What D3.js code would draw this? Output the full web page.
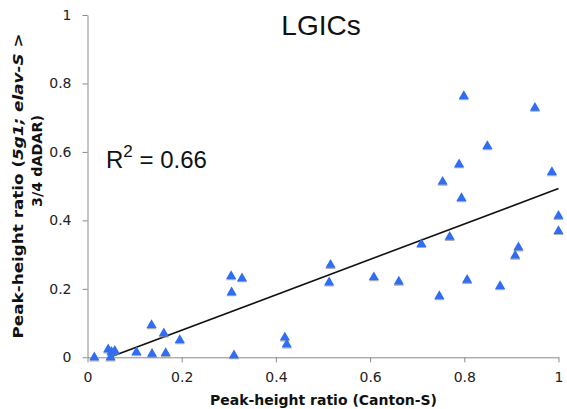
<!DOCTYPE html>
<html><head><meta charset="utf-8">
<script src="https://cdn.jsdelivr.net/npm/d3@7"></script>
<style>body{margin:0;background:#fff;} svg{display:block;}</style>
</head><body><svg id="c" width="567" height="409"></svg>
<script>
const xVals = [0.0145,0.044,0.049,0.051,0.058,0.104,0.136,0.137,0.162,0.166,0.196,0.305,0.306,0.311,0.328,0.419,0.423,0.513,0.516,0.608,0.661,0.709,0.747,0.754,0.769,0.789,0.794,0.799,0.806,0.849,0.876,0.908,0.915,0.950,0.986,1.0,1.0];
const yVals = [0.0,0.023,0.0,0.016,0.019,0.015,0.094,0.01,0.07,0.012,0.05,0.237,0.19,0.006,0.231,0.058,0.038,0.219,0.27,0.234,0.221,0.331,0.179,0.513,0.352,0.564,0.465,0.763,0.226,0.617,0.208,0.297,0.321,0.729,0.541,0.413,0.369];
const trendX = [0.047, 1.0];
const trendY = [0.0, 0.493];
const tickVals = [0,0.2,0.4,0.6,0.8,1];
const tickLabels = ["0","0.2","0.4","0.6","0.8","1"];
const title = "LGICs";
const r2Text = "0.66";

const svg = d3.select("#c");
const x = d3.scaleLinear().domain([0,1]).range([87.5,558.5]);
const y = d3.scaleLinear().domain([0,1]).range([357.3,15]);
const axisColor = "#8a8a8a";
const font = "'DejaVu Sans', Verdana, sans-serif";

const xa = svg.append("g").attr("transform","translate(0,357.3)")
  .call(d3.axisBottom(x).tickValues(tickVals).tickFormat((d,i)=>tickLabels[i]).tickSize(5).tickSizeOuter(0).tickPadding(10));
const ya = svg.append("g").attr("transform","translate(87.5,0)")
  .call(d3.axisLeft(y).tickValues(tickVals).tickFormat((d,i)=>tickLabels[i]).tickSize(5).tickSizeOuter(0).tickPadding(11));
[xa,ya].forEach(a=>{
  a.select(".domain").attr("stroke",axisColor);
  a.selectAll(".tick line").attr("stroke",axisColor);
  a.selectAll("text").attr("fill","#222").style("font-family",font).style("font-size","14px");
});

// trendline
svg.append("line")
  .attr("x1",x(trendX[0])).attr("y1",y(trendY[0]))
  .attr("x2",x(trendX[1])).attr("y2",y(trendY[1]))
  .attr("stroke","#111").attr("stroke-width",1.6);

// markers
const tri = d3.symbol().type(d3.symbolTriangle).size(44);
const pts = xVals.map((v,i)=>({x:v,y:yVals[i]}));
svg.append("g").selectAll("path.sh").data(pts).join("path")
  .attr("d",tri).attr("transform",d=>`translate(${x(d.x)},${y(d.y)+1.2})`)
  .attr("fill","#8a8a8a").attr("opacity",0.7);
svg.append("g").selectAll("path.pt").data(pts).join("path")
  .attr("d",tri).attr("transform",d=>`translate(${x(d.x)},${y(d.y)})`)
  .attr("fill","#2f6df2");

// title
svg.append("text").attr("x",321).attr("y",35).attr("text-anchor","middle")
  .style("font-family","'Liberation Sans', Arial, sans-serif").style("font-size","28px").attr("fill","#111")
  .text(title);

// R2
const r = svg.append("text").attr("x",106).attr("y",168)
  .style("font-family","'Liberation Sans', Arial, sans-serif").style("font-size","24px").attr("fill","#111");
r.append("tspan").text("R");
r.append("tspan").attr("dy",-11).style("font-size","17px").text("2");
r.append("tspan").attr("dy",11).text(" = " + r2Text);

// x label
svg.append("text").attr("x",323.5).attr("y",405).attr("text-anchor","middle")
  .attr("textLength",227).attr("lengthAdjust","spacingAndGlyphs")
  .style("font-family",font).style("font-size","14px").style("font-weight","bold").attr("fill","#111")
  .text("Peak-height ratio (Canton-S)");

// y label
const yl1 = svg.append("text").attr("transform","translate(23,186) rotate(-90)").attr("text-anchor","middle")
  .attr("textLength",305).attr("lengthAdjust","spacingAndGlyphs")
  .style("font-family",font).style("font-size","14px").style("font-weight","bold").attr("fill","#111");
yl1.append("tspan").text("Peak-height ratio (");
yl1.append("tspan").style("font-style","italic").text("5g1; elav-S");
yl1.append("tspan").text(" >");
svg.append("text").attr("transform","translate(41.5,161) rotate(-90)").attr("text-anchor","middle")
  .attr("textLength",92).attr("lengthAdjust","spacingAndGlyphs")
  .style("font-family",font).style("font-size","14px").style("font-weight","bold").attr("fill","#111")
  .text("3/4 dADAR)");
</script></body></html>
